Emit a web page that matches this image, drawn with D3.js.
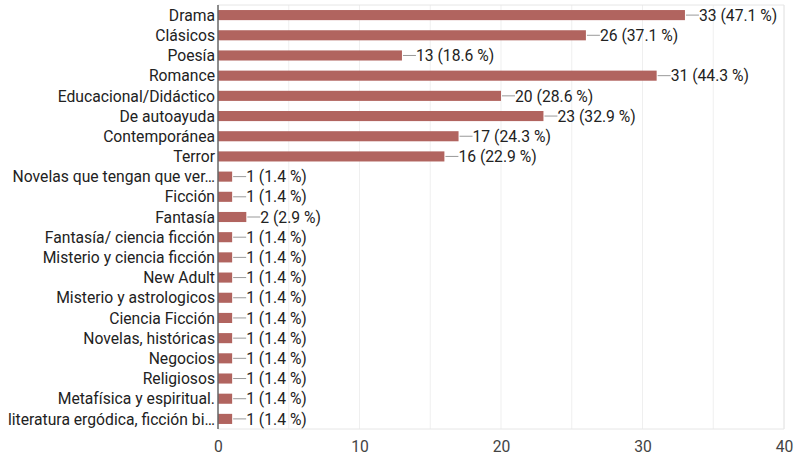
<!DOCTYPE html>
<html>
<head>
<meta charset="utf-8">
<script src="https://cdn.jsdelivr.net/npm/d3@7"></script>
<style>
  html, body { margin: 0; padding: 0; background: #fff; }
  svg { display: block; font-family: Roboto, Arial, sans-serif; }
</style>
</head>
<body>
<svg id="chart" width="795" height="455"></svg>
<script>
const categories = [
  "Drama", "Clásicos", "Poesía", "Romance", "Educacional/Didáctico",
  "De autoayuda", "Contemporánea", "Terror", "Novelas que tengan que ver…",
  "Ficción", "Fantasía", "Fantasía/ ciencia ficción", "Misterio y ciencia ficción",
  "New Adult", "Misterio y astrologicos", "Ciencia Ficción", "Novelas, históricas",
  "Negocios", "Religiosos", "Metafísica y espiritual.", "literatura ergódica, ficción bi…"
];
const counts = [33, 26, 13, 31, 20, 23, 17, 16, 1, 1, 2, 1, 1, 1, 1, 1, 1, 1, 1, 1, 1];
const percents = ["47.1", "37.1", "18.6", "44.3", "28.6", "32.9", "24.3", "22.9",
  "1.4", "1.4", "2.9", "1.4", "1.4", "1.4", "1.4", "1.4", "1.4", "1.4", "1.4", "1.4", "1.4"];
const xTicks = [0, 10, 20, 30, 40];
const gridValues = [5, 10, 15, 20, 25, 30, 35, 40];

const rows = categories.map((c, i) => ({ cat: c, n: counts[i], pct: percents[i] }));

const svg = d3.select("#chart");
const plotLeft = 218, plotRight = 784, plotTop = 5, plotBottom = 429;
const font = 'Roboto, Arial, sans-serif';
const fontSize = 15.7;

const x = d3.scaleLinear().domain([0, 40]).range([plotLeft, plotRight]);
const y = d3.scaleBand().domain(categories).range([plotTop, plotBottom]).paddingInner(0.5).paddingOuter(0.25);

// vertical gridlines
svg.append("g").selectAll("line").data(gridValues).join("line")
  .attr("x1", d => x(d)).attr("x2", d => x(d))
  .attr("y1", plotTop).attr("y2", plotBottom)
  .attr("stroke", "#efefef").attr("stroke-width", 1);

// plot frame (top, right, bottom)
svg.append("path")
  .attr("d", `M${plotLeft},${plotTop}H${plotRight}V${plotBottom}H${plotLeft}`)
  .attr("fill", "none").attr("stroke", "#e6e6e6").attr("stroke-width", 1);

// bars
svg.append("g").selectAll("rect").data(rows).join("rect")
  .attr("x", x(0))
  .attr("y", d => y(d.cat))
  .attr("width", d => x(d.n) - x(0))
  .attr("height", y.bandwidth())
  .attr("fill", "#b1645f");

// leader lines and value labels
const lab = svg.append("g").selectAll("g").data(rows).join("g");
lab.append("line")
  .attr("x1", d => x(d.n) + 1).attr("x2", d => x(d.n) + 14)
  .attr("y1", d => y(d.cat) + y.bandwidth() / 2)
  .attr("y2", d => y(d.cat) + y.bandwidth() / 2)
  .attr("stroke", "#999").attr("stroke-width", 1);
lab.append("text")
  .attr("x", d => x(d.n) + 14)
  .attr("y", d => y(d.cat) + y.bandwidth() / 2)
  .attr("dy", "0.36em")
  .attr("font-size", fontSize).attr("fill", "#222")
  .text(d => `${d.n} (${d.pct} %)`);

// left axis line
svg.append("line")
  .attr("x1", plotLeft).attr("x2", plotLeft).attr("y1", plotTop).attr("y2", plotBottom)
  .attr("stroke", "#666").attr("stroke-width", 1.5);

// category labels
svg.append("g").selectAll("text").data(rows).join("text")
  .attr("x", plotLeft - 3)
  .attr("y", d => y(d.cat) + y.bandwidth() / 2)
  .attr("dy", "0.36em")
  .attr("text-anchor", "end")
  .attr("font-size", fontSize).attr("fill", "#222")
  .text(d => d.cat);

// x axis tick labels
const xAxis = d3.axisBottom(x).tickValues(xTicks).tickSize(0).tickPadding(0);
const gx = svg.append("g").attr("transform", `translate(0,${plotBottom + 12})`).call(xAxis);
gx.select(".domain").remove();
gx.selectAll("text").attr("font-size", fontSize).attr("fill", "#444")
  .attr("font-family", font);
</script>
</body>
</html>
